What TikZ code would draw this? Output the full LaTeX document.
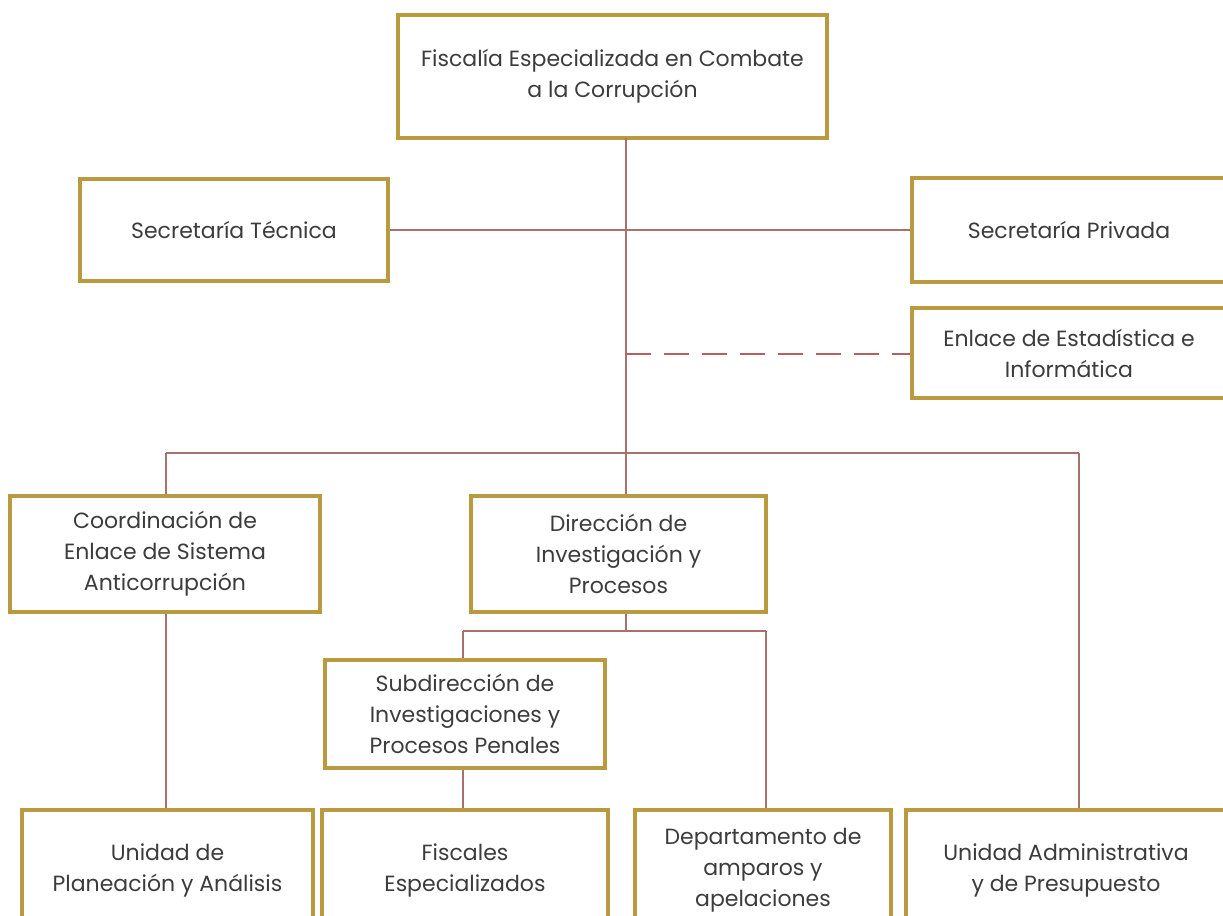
\documentclass[tikz,border=0pt]{standalone}
\usepackage{xcolor}
\usepackage{fontspec}
\setmainfont{Poppins}
\usepackage{tikz}
\usetikzlibrary{positioning,shadows}

\definecolor{boxgold}{HTML}{B99A3E}
\definecolor{linkrose}{HTML}{A8716D}
\definecolor{textgray}{HTML}{3C3C3C}

\begin{document}
\begin{tikzpicture}[x=0.5pt, y=-0.5pt,
			orgbox/.style={draw=boxgold, line width=1.6pt, fill=white, align=center,
				text=textgray, font=\fontsize{11}{15.5}\selectfont, inner sep=2pt,
				drop shadow={opacity=0.18, shadow xshift=1.2pt, shadow yshift=-1.2pt}},
			link/.style={draw=linkrose, line width=0.9pt},
			dlink/.style={draw=linkrose!85!red, line width=1.4pt, dash pattern=on 12.5pt off 6.5pt},
			]
			
			\useasboundingbox (0,0) rectangle (1223,916);
			
			%% ── Head ─────────────────────────────────────────────────────────────────────
			\node[orgbox, minimum width=214.5pt, minimum height=61.5pt] (fiscalia) at (612.5,76.5)
			{Fiscalía Especializada en Combate\\a la Corrupción};
			
			%% ── Staff units ──────────────────────────────────────────────────────────────
			\node[orgbox, minimum width=154pt, minimum height=51pt] (sectec) at (234,230)
			{Secretaría Técnica};
			
			\node[orgbox, minimum width=157pt, minimum height=52pt] (secpriv) at (1069,230)
			{Secretaría Privada};
			
			\node[orgbox, minimum width=157pt, minimum height=45pt] (enlace) at (1069,353)
			{Enlace de Estadística e\\Informática};
			
			%% ── Second level ─────────────────────────────────────────────────────────────
			\node[orgbox, minimum width=155pt, minimum height=58pt] (coord) at (165,554)
			{Coordinación de\\Enlace de Sistema\\Anticorrupción};
			
			\node[orgbox, minimum width=147.5pt, minimum height=58pt] (direc) at (618.5,554)
			{Dirección de\\Investigación y\\Procesos};
			
			\node[orgbox, minimum width=140pt, minimum height=54pt] (subdir) at (465,714)
			{Subdirección de\\Investigaciones y\\Procesos Penales};
			
			%% ── Bottom row ───────────────────────────────────────────────────────────────
			\node[orgbox, minimum width=145.5pt, minimum height=60pt] (planea) at (167.5,870)
			{Unidad de\\Planeación y Análisis};
			
			\node[orgbox, minimum width=143pt, minimum height=60pt] (fiscales) at (465,870)
			{Fiscales\\Especializados};
			
			\node[orgbox, minimum width=128pt, minimum height=60pt] (depto) at (763,870)
			{Departamento de\\amparos y\\apelaciones};
			
			\node[orgbox, minimum width=160pt, minimum height=60pt] (unadm) at (1066,870)
			{Unidad Administrativa\\y de Presupuesto};
			
			%% ── Junction points ──────────────────────────────────────────────────────────
			\coordinate (trunktop) at (626,138);
			\coordinate (dashpt)   at (626,354);
			\coordinate (busmid)   at (626,453);
			\coordinate (busleft)  at (166,453);
			\coordinate (busright) at (1079,453);
			\coordinate (subbusmid)   at (626,631);
			\coordinate (subbusleft)  at (463,631);
			\coordinate (subbusright) at (766,631);
			
			%% ── Connectors ───────────────────────────────────────────────────────────────
			\draw[link] (trunktop) -- (busmid);
			\draw[link] (sectec) -- (secpriv);
			\draw[dlink] (dashpt) -- (enlace.west |- dashpt);
			\draw[link] (busleft) -- (busright);
			\draw[link] (busleft) -- (coord.north -| busleft);
			\draw[link] (busmid) -- (direc.north -| busmid);
			\draw[link] (busright) -- (unadm.north -| busright);
			\draw[link] (coord.south -| busleft) -- (planea.north -| busleft);
			\draw[link] (direc.south -| subbusmid) -- (subbusmid);
			\draw[link] (subbusleft) -- (subbusright);
			\draw[link] (subbusleft) -- (subdir.north -| subbusleft);
			\draw[link] (subbusright) -- (depto.north -| subbusright);
			\draw[link] (subdir.south -| subbusleft) -- (fiscales.north -| subbusleft);
			
		\end{tikzpicture}
\end{document}
